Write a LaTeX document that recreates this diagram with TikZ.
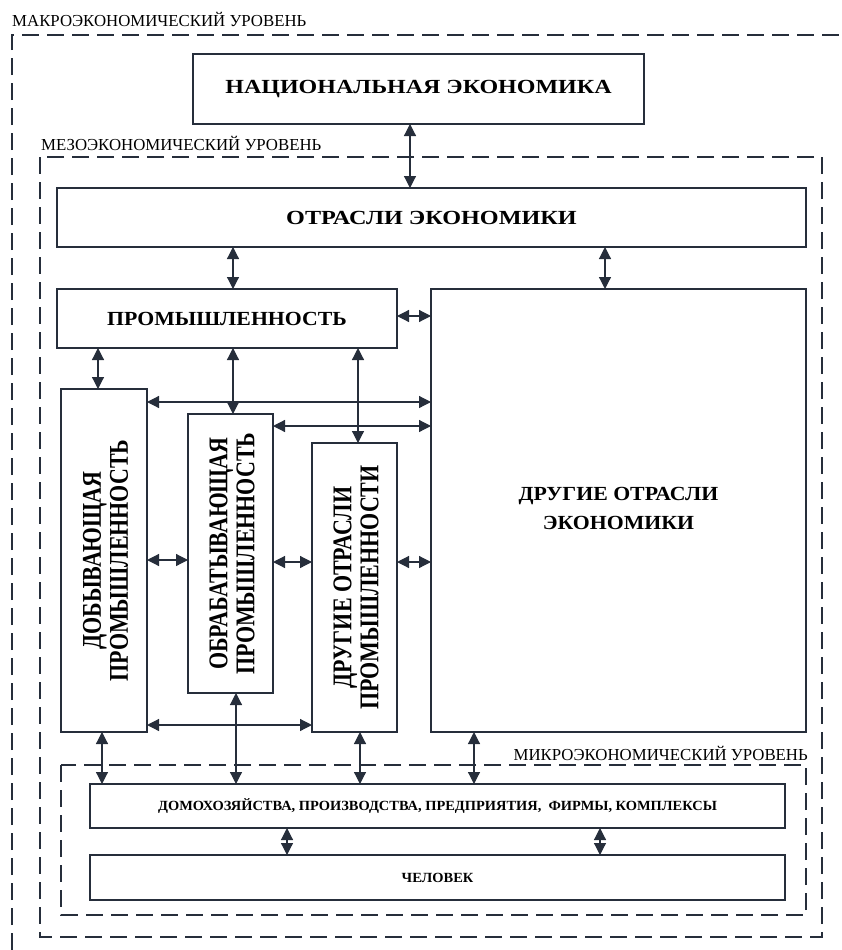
\documentclass[tikz,border=0pt]{standalone}
\usepackage{fontspec}
\setmainfont{Liberation Serif}
\usetikzlibrary{arrows.meta}
\definecolor{linec}{HTML}{262E3B}
\tikzset{
  box/.style={draw=linec, line width=1.8pt, inner sep=0pt, outer sep=0pt,
    align=center, font=\bfseries\fontsize{20}{20}\selectfont},
  smallbox/.style={box, font=\bfseries\fontsize{14}{14}\selectfont},
  levelbox/.style={draw=linec, line width=1.8pt, dash pattern=on 17pt off 8pt},
  levellabel/.style={inner sep=0pt, font=\fontsize{16.8}{16.8}\selectfont},
  darr/.style={draw=linec, line width=1.2pt,
    {Triangle[length=12pt,width=12pt]}-{Triangle[length=12pt,width=12pt]}},
  vtext/.style={rotate=90, inner sep=0pt, align=center,
    font=\bfseries\fontsize{22}{22}\selectfont}
}
% wide and tall variants of the bold captions
\newcommand{\widecap}[2]{\scalebox{#1}[1]{#2}}
\newcommand{\stretchy}[1]{\scalebox{1}[1.23]{\begin{tabular}{@{}c@{}}#1\end{tabular}}}
\begin{document}
\begin{tikzpicture}[x=1pt,y=-1pt]
\useasboundingbox (0,0) rectangle (842,950);

% economic levels
\draw[levelbox] (12,950) -- (12,35) -- (842,35);
\node[levellabel, anchor=base west] (macrolbl) at (12,27) {МАКРОЭКОНОМИЧЕСКИЙ УРОВЕНЬ};
\draw[levelbox] (40,157) rectangle (822,937);
\node[levellabel, anchor=base west] (mesolbl) at (41,150) {МЕЗОЭКОНОМИЧЕСКИЙ УРОВЕНЬ};
\draw[levelbox] (61,765) rectangle (806,915);
\node[levellabel, anchor=base east] (microlbl) at (808,760) {МИКРОЭКОНОМИЧЕСКИЙ УРОВЕНЬ};

% blocks
\node[box, minimum width=451pt, minimum height=70pt] (nat) at (418.5,89) {\widecap{1.2}{НАЦИОНАЛЬНАЯ ЭКОНОМИКА}};
\node[box, minimum width=749pt, minimum height=59pt] (otr) at (431.5,217.5) {\widecap{1.21}{ОТРАСЛИ ЭКОНОМИКИ}};
\node[box, minimum width=340pt, minimum height=59pt] (prom) at (227,318.5) {\widecap{1.09}{ПРОМЫШЛЕННОСТЬ}};
\node[box, minimum width=375pt, minimum height=443pt] (oth) at (618.5,510.5) {\widecap{1.09}{\begin{tabular}{@{}c@{}}ДРУГИЕ ОТРАСЛИ\\[9pt]ЭКОНОМИКИ\end{tabular}}};
\node[box, minimum width=86pt, minimum height=343pt] (dob) at (104,560.5) {};
\node[box, minimum width=85pt, minimum height=279pt] (obr) at (230.5,553.5) {};
\node[box, minimum width=85pt, minimum height=289pt] (dpr) at (354.5,587.5) {};
\node[vtext] (dobtxt) at ([xshift=5pt]dob.center) {\stretchy{ДОБЫВАЮЩАЯ\\ПРОМЫШЛЕННОСТЬ}};
\node[vtext] (obrtxt) at ([xshift=5pt]obr.center) {\stretchy{ОБРАБАТЫВАЮЩАЯ\\ПРОМЫШЛЕННОСТЬ}};
\node[vtext] (dprtxt) at ([xshift=5pt]dpr.center) {\stretchy{ДРУГИЕ ОТРАСЛИ\\ПРОМЫШЛЕННОСТИ}};
\node[smallbox, minimum width=695pt, minimum height=44pt] (hh) at (437.5,806) {\widecap{1.03}{ДОМОХОЗЯЙСТВА, ПРОИЗВОДСТВА, ПРЕДПРИЯТИЯ,\ \ ФИРМЫ, КОМПЛЕКСЫ}};
\node[smallbox, minimum width=695pt, minimum height=45pt] (man) at (437.5,877.5) {\widecap{1.03}{ЧЕЛОВЕК}};

% connector positions
\coordinate (c98) at (98,0);
\coordinate (c102) at (102,0);
\coordinate (c233) at (233,0);
\coordinate (c236) at (236,0);
\coordinate (c287) at (287,0);
\coordinate (c358) at (358,0);
\coordinate (c360) at (360,0);
\coordinate (c410) at (410,0);
\coordinate (c474) at (474,0);
\coordinate (c600) at (600,0);
\coordinate (c605) at (605,0);
\coordinate (r316) at (0,316);
\coordinate (r402) at (0,402);
\coordinate (r426) at (0,426);
\coordinate (r560) at (0,560);
\coordinate (r562) at (0,562);
\coordinate (r725) at (0,725);

% vertical links
\draw[darr] (nat.south -| c410) -- (otr.north -| c410);
\draw[darr] (otr.south -| c233) -- (prom.north -| c233);
\draw[darr] (otr.south -| c605) -- (oth.north -| c605);
\draw[darr] (prom.south -| c98) -- (dob.north -| c98);
\draw[darr] (prom.south -| c233) -- (obr.north -| c233);
\draw[darr] (prom.south -| c358) -- (dpr.north -| c358);
\draw[darr] (dob.south -| c102) -- (hh.north -| c102);
\draw[darr] (obr.south -| c236) -- (hh.north -| c236);
\draw[darr] (dpr.south -| c360) -- (hh.north -| c360);
\draw[darr] (oth.south -| c474) -- (hh.north -| c474);
\draw[darr] (hh.south -| c287) -- (man.north -| c287);
\draw[darr] (hh.south -| c600) -- (man.north -| c600);

% horizontal links
\draw[darr] (prom.east |- r316) -- (oth.west |- r316);
\draw[darr] (dob.east |- r402) -- (oth.west |- r402);
\draw[darr] (obr.east |- r426) -- (oth.west |- r426);
\draw[darr] (dob.east |- r560) -- (obr.west |- r560);
\draw[darr] (obr.east |- r562) -- (dpr.west |- r562);
\draw[darr] (dpr.east |- r562) -- (oth.west |- r562);
\draw[darr] (dob.east |- r725) -- (dpr.west |- r725);
\end{tikzpicture}
\end{document}
